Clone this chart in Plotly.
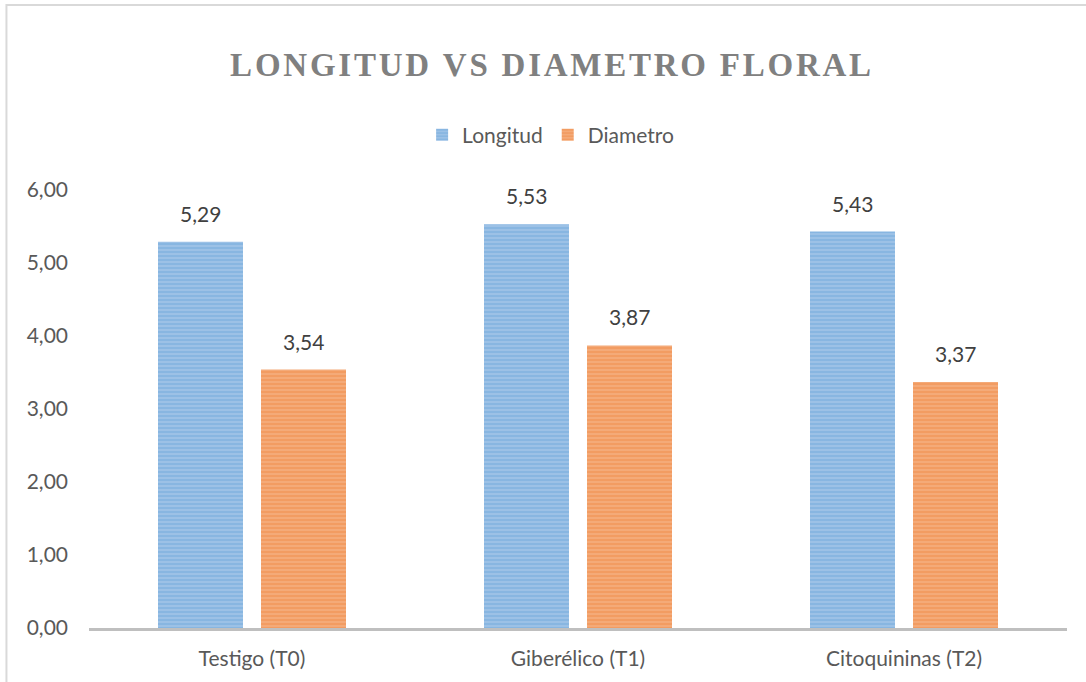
import plotly.graph_objects as go

categories = ["Testigo (T0)", "Giberélico (T1)", "Citoquininas (T2)"]
longitud = [5.29, 5.53, 5.43]
diametro = [3.54, 3.87, 3.37]
series_names = ["Longitud", "Diametro"]
title_text = "LONGITUD VS DIAMETRO FLORAL"

BLUE = "#5B9BD5"
ORANGE = "#ED7D31"
FONT = "Lato"

def spaced(s):
    out = []
    for w in s.split(" "):
        out.append("\u200a".join(list(w)))
    return "\u200a \u200a".join(out)

fig = go.Figure()
for name, vals, col, bg in [(series_names[0], longitud, BLUE, "#b4d0ec"),
                            (series_names[1], diametro, ORANGE, "#f6bb93")]:
    fig.add_trace(go.Bar(
        name=name, x=categories, y=vals,
        marker=dict(color=bg, line=dict(width=0),
                    pattern=dict(shape="-", fgcolor=col, size=4, solidity=0.78)),
    ))

annotations = []
for vals, shift in [(longitud, -51.5), (diametro, 51.5)]:
    for c, v in zip(categories, vals):
        annotations.append(dict(
            x=c, y=v, xref="x", yref="y", text=f"{v:.2f}".replace(".", ","),
            showarrow=False, xshift=shift, yanchor="bottom", yshift=14,
            font=dict(family=FONT, size=21, color="#404040")))

fig.update_layout(
    width=1086, height=682,
    margin=dict(l=89, r=19, t=190, b=54),
    paper_bgcolor="white", plot_bgcolor="white",
    separators=",.",
    barmode="group", bargap=0.368, bargroupgap=0.175,
    title=dict(text=spaced(title_text), x=0.507, xanchor="center", y=0.905, yanchor="middle",
               xref="container", yref="container",
               font=dict(family="Liberation Serif", size=33, color="#808080", weight="bold")),
    legend=dict(orientation="h", x=0.472, xanchor="center", y=1.1256, yanchor="middle",
                font=dict(family=FONT, size=21, color="#595959"),
                itemwidth=30, tracegroupgap=0, traceorder="normal"),
    annotations=annotations,
    shapes=[dict(type="rect", xref="paper", yref="paper",
                 x0=-0.0844, x1=1.2, y0=-0.4, y1=1.4224,
                 line=dict(color="#d9d9d9", width=2), layer="below")],
    xaxis=dict(showgrid=False, showline=True, linecolor="#bfbfbf", linewidth=2.5,
               ticks="", ticklabelstandoff=10,
               tickfont=dict(family=FONT, size=21, color="#595959")),
    yaxis=dict(range=[0, 6], dtick=1, tickformat=".2f", showgrid=False, showline=False,
               zeroline=False, ticks="", ticklabelstandoff=20,
               tickfont=dict(family=FONT, size=21, color="#595959")),
)

fig.write_html("out.html", config={"displayModeBar": False},
               post_script="document.body.style.margin='0';")
